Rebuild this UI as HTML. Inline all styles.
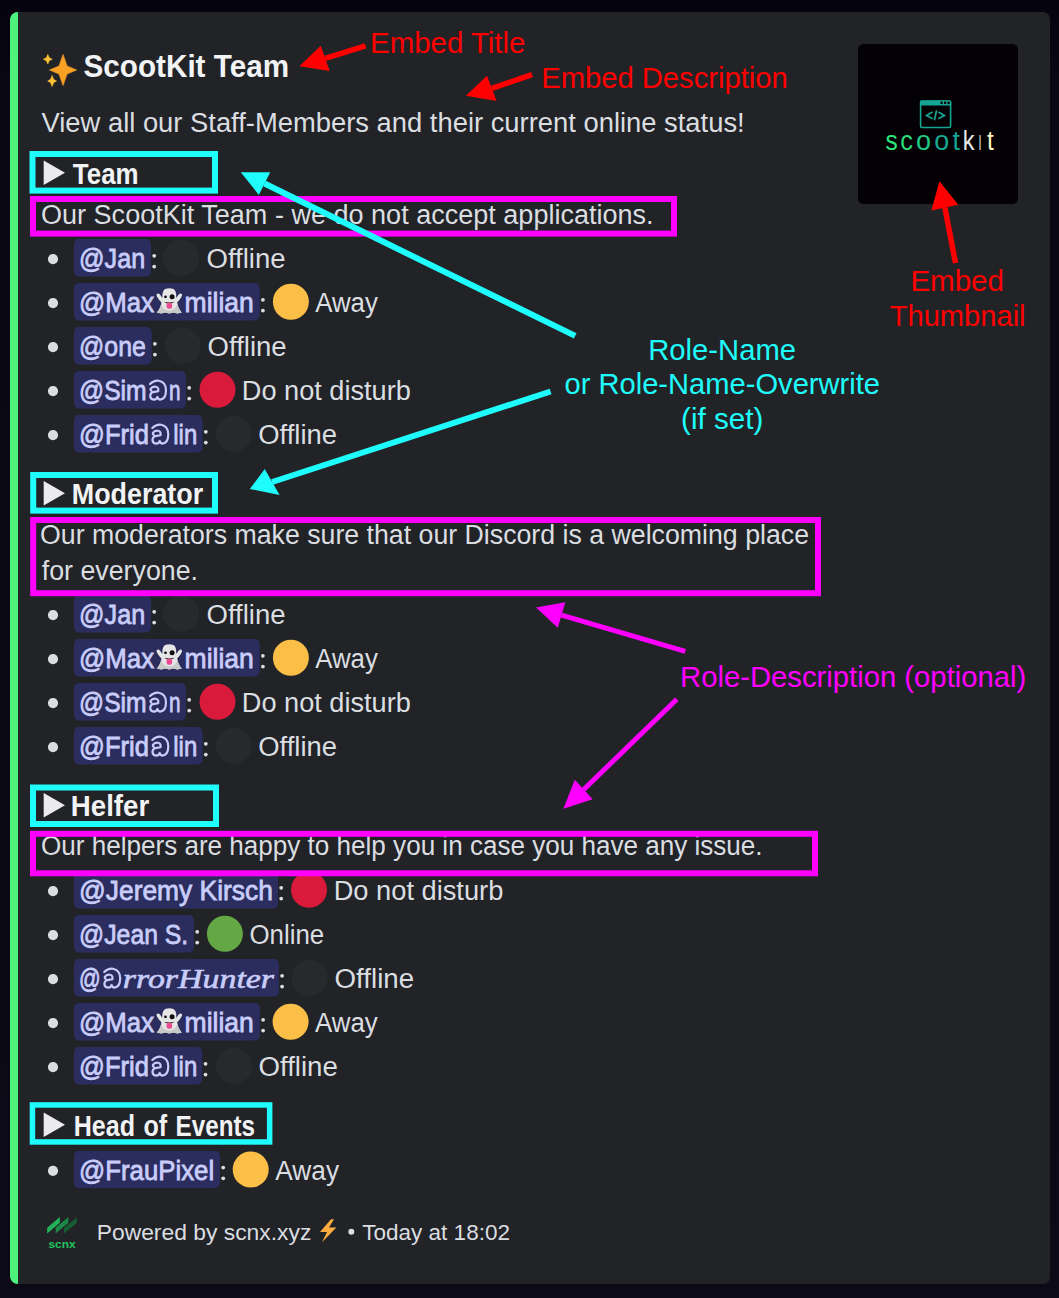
<!DOCTYPE html>
<html><head><meta charset="utf-8"><style>
html,body{margin:0;padding:0;background:#07060f;width:1059px;height:1298px;overflow:hidden}
svg{display:block}
</style></head><body>
<svg width="1059" height="1298" viewBox="0 0 1059 1298">
<defs><linearGradient id="bgg" x1="0" y1="0" x2="0" y2="1"><stop offset="0" stop-color="#04030e"/><stop offset="0.06" stop-color="#090812"/><stop offset="0.5" stop-color="#0a0914"/><stop offset="1" stop-color="#0b0a16"/></linearGradient></defs><rect width="1059" height="1298" fill="url(#bgg)"/>
<rect x="10" y="12" width="1040" height="1272" rx="7" fill="#222327"/>
<path d="M18 12 H18 V1284 H18 A8 8 0 0 1 10 1276 V20 A8 8 0 0 1 18 12 Z" fill="#4ef27b"/>
<rect x="858" y="44" width="160" height="160" rx="5.5" fill="#030103"/>
<rect x="920.6" y="101" width="30" height="26.5" rx="1.5" fill="none" stroke="#17a593" stroke-width="1.6"/>
<rect x="920" y="100.4" width="31.2" height="5" rx="1.2" fill="#17a593"/>
<rect x="940.5" y="101.6" width="2.2" height="2.4" fill="#040204"/>
<rect x="944" y="101.6" width="2.2" height="2.4" fill="#040204"/>
<rect x="947.5" y="101.6" width="2.2" height="2.4" fill="#040204"/>
<path d="M932.6 112 L926.6 115.4 L932.6 118.8 M938.3 112 L944.4 115.4 L938.3 118.8 M936.6 110.3 L934.4 120.3" fill="none" stroke="#17a593" stroke-width="1.7"/>
<text x="885.4" y="150.2" font-family='"Liberation Sans", sans-serif' font-size="27.5" font-weight="normal" fill="#2ee57a" text-anchor="start" textLength="12.2" lengthAdjust="spacingAndGlyphs" >s</text>
<text x="900.2" y="150.2" font-family='"Liberation Sans", sans-serif' font-size="27.5" font-weight="normal" fill="#2bdb7a" text-anchor="start" textLength="12.7" lengthAdjust="spacingAndGlyphs" >c</text>
<text x="916.0" y="150.2" font-family='"Liberation Sans", sans-serif' font-size="27.5" font-weight="normal" fill="#20c886" text-anchor="start" textLength="15.03" lengthAdjust="spacingAndGlyphs" >o</text>
<text x="934.2" y="150.2" font-family='"Liberation Sans", sans-serif' font-size="27.5" font-weight="normal" fill="#17a894" text-anchor="start" textLength="14.93" lengthAdjust="spacingAndGlyphs" >o</text>
<text x="952.5" y="150.2" font-family='"Liberation Sans", sans-serif' font-size="27.5" font-weight="normal" fill="#17a595" text-anchor="start" textLength="7.34" lengthAdjust="spacingAndGlyphs" >t</text>
<text x="962.7" y="150.2" font-family='"Liberation Sans", sans-serif' font-size="27.5" font-weight="normal" fill="#e9e9e9" text-anchor="start" textLength="11.78" lengthAdjust="spacingAndGlyphs" >k</text>
<text x="978.4" y="150.2" font-family='"Liberation Sans", sans-serif' font-size="27.5" font-weight="normal" fill="#f2f2f2" text-anchor="start" textLength="2.98" lengthAdjust="spacingAndGlyphs" >ı</text>
<text x="987.1" y="150.2" font-family='"Liberation Sans", sans-serif' font-size="27.5" font-weight="normal" fill="#fdf6c6" text-anchor="start" textLength="6.75" lengthAdjust="spacingAndGlyphs" >t</text>
<path d="M63.05 54.40 L67.13 65.94 L76.65 70.00 L67.13 74.06 L63.05 85.60 L58.97 74.06 L49.45 70.00 L58.97 65.94 Z" fill="#f9a124" stroke="#f9a124" stroke-width="0.6" stroke-linejoin="round"/>
<path d="M47.80 54.40 L49.25 57.76 L52.20 59.20 L49.25 60.64 L47.80 64.00 L46.35 60.64 L43.40 59.20 L46.35 57.76 Z" fill="#fcc033" stroke="#fcc033" stroke-width="0.6" stroke-linejoin="round"/>
<path d="M52.10 75.40 L53.55 79.32 L56.50 81.00 L53.55 82.68 L52.10 86.60 L50.65 82.68 L47.70 81.00 L50.65 79.32 Z" fill="#fcc033" stroke="#fcc033" stroke-width="0.6" stroke-linejoin="round"/>
<text x="83.6" y="76.5" font-family='"Liberation Sans", sans-serif' font-size="32" font-weight="bold" fill="#f2f3f5" text-anchor="start" textLength="205.4" lengthAdjust="spacingAndGlyphs" >ScootKit Team</text>
<text x="41.5" y="131.9" font-family='"Liberation Sans", sans-serif' font-size="28.2" font-weight="normal" fill="#dbdee1" text-anchor="start" textLength="703.2" lengthAdjust="spacingAndGlyphs" >View all our Staff-Members and their current online status!</text>
<path d="M43.7 160.6 L65 172.79999999999998 L43.7 185.0 Z" fill="#ebebed"/>
<text x="72.8" y="184" font-family='"Liberation Sans", sans-serif' font-size="29" font-weight="bold" fill="#f2f3f5" text-anchor="start" textLength="65.8" lengthAdjust="spacingAndGlyphs" >Team</text>
<text x="41.0" y="224.2" font-family='"Liberation Sans", sans-serif' font-size="28.2" font-weight="normal" fill="#dbdee1" text-anchor="start" textLength="612.6" lengthAdjust="spacingAndGlyphs" >Our ScootKit Team - we do not accept applications.</text>
<circle cx="53" cy="259.05" r="5.1" fill="#dbdee1"/>
<rect x="74" y="239.0" width="77" height="37.5" rx="5" fill="#2b2d5e"/>
<text x="79.1" y="267.9" font-family='"Liberation Sans", sans-serif' font-size="28.2" font-weight="normal" fill="#c9cdfb" text-anchor="start" textLength="66.04" lengthAdjust="spacingAndGlyphs" stroke="#c9cdfb" stroke-width="0.8">@Jan</text>
<circle cx="154.2" cy="255.85" r="1.9" fill="#dbdee1"/><circle cx="154.2" cy="266.55" r="1.9" fill="#dbdee1"/>
<circle cx="180.9" cy="257.75" r="18" fill="#272a2d"/>
<text x="206.5" y="267.9" font-family='"Liberation Sans", sans-serif' font-size="28.2" font-weight="normal" fill="#dbdee1" text-anchor="start" textLength="79.06" lengthAdjust="spacingAndGlyphs" >Offline</text>
<circle cx="53" cy="303.05" r="5.1" fill="#dbdee1"/>
<rect x="74" y="283.0" width="185.7" height="37.5" rx="5" fill="#2b2d5e"/>
<text x="79.1" y="311.9" font-family='"Liberation Sans", sans-serif' font-size="28.2" font-weight="normal" fill="#c9cdfb" text-anchor="start" textLength="74.98" lengthAdjust="spacingAndGlyphs" stroke="#c9cdfb" stroke-width="0.8">@Max</text>
<g transform="translate(155.3,288.0)"><path d="M1.2 7.2 Q1.2 5.2 3.2 5.6 Q4.6 6 7 10 Q6.6 2 10.5 0.8 Q14 -0.4 17.5 0.8 Q21.4 2 21 10 Q23.4 6 24.8 5.6 Q26.8 5.2 26.8 7.2 Q26 10 21.8 14.5 Q23 21 26.6 24.6 Q22 26.2 18 24.6 Q14 26.2 10 24.6 Q6 26.2 1.4 24.6 Q5 21 6.2 14.5 Q2 10 1.2 7.2 Z" fill="#e6e6e6"/><path d="M6.2 14.5 Q5 21 1.4 24.6 Q6 26.2 10 24.6 Q14 26.2 18 24.6 Q22 26.2 26.6 24.6 Q23 21 21.8 14.5 Q22 22 14 22.5 Q6 22 6.2 14.5 Z" fill="#c9c9c9"/><circle cx="10.2" cy="8.8" r="1.4" fill="#111"/><circle cx="16.8" cy="8.8" r="2.5" fill="#111"/><path d="M8.6 13.8 Q14 15.4 19.4 13.8 Q14 17.6 8.6 13.8 Z" fill="#151515"/><rect x="11.2" y="14.8" width="5.6" height="6" rx="2.2" fill="#ee4a92"/></g>
<text x="184.6" y="311.9" font-family='"Liberation Sans", sans-serif' font-size="28.2" font-weight="normal" fill="#c9cdfb" text-anchor="start" textLength="69.25" lengthAdjust="spacingAndGlyphs" stroke="#c9cdfb" stroke-width="0.8">milian</text>
<circle cx="262.9" cy="299.85" r="1.9" fill="#dbdee1"/><circle cx="262.9" cy="310.55" r="1.9" fill="#dbdee1"/>
<circle cx="290.90000000000003" cy="301.75" r="18" fill="#fbbf48"/>
<text x="315.2" y="311.9" font-family='"Liberation Sans", sans-serif' font-size="28.2" font-weight="normal" fill="#dbdee1" text-anchor="start" textLength="62.66" lengthAdjust="spacingAndGlyphs" >Away</text>
<circle cx="53" cy="347.05" r="5.1" fill="#dbdee1"/>
<rect x="74" y="327.0" width="77.69999999999999" height="37.5" rx="5" fill="#2b2d5e"/>
<text x="79.1" y="355.9" font-family='"Liberation Sans", sans-serif' font-size="28.2" font-weight="normal" fill="#c9cdfb" text-anchor="start" textLength="66.77" lengthAdjust="spacingAndGlyphs" stroke="#c9cdfb" stroke-width="0.8">@one</text>
<circle cx="154.89999999999998" cy="343.85" r="1.9" fill="#dbdee1"/><circle cx="154.89999999999998" cy="354.55" r="1.9" fill="#dbdee1"/>
<circle cx="182.9" cy="345.75" r="18" fill="#272a2d"/>
<text x="207.6" y="355.9" font-family='"Liberation Sans", sans-serif' font-size="28.2" font-weight="normal" fill="#dbdee1" text-anchor="start" textLength="79.06" lengthAdjust="spacingAndGlyphs" >Offline</text>
<circle cx="53" cy="391.05" r="5.1" fill="#dbdee1"/>
<rect x="74" y="371.0" width="112" height="37.5" rx="5" fill="#2b2d5e"/>
<text x="79.1" y="399.9" font-family='"Liberation Sans", sans-serif' font-size="28.2" font-weight="normal" fill="#c9cdfb" text-anchor="start" textLength="67.56" lengthAdjust="spacingAndGlyphs" stroke="#c9cdfb" stroke-width="0.8">@Sim</text>
<g transform="translate(145.8,376.35)" fill="none" stroke="#c9cdfb" stroke-width="2.2" stroke-linecap="round" stroke-linejoin="round"><path d="M4.2 7.7 Q8.5 3.6 13 4.4 Q20.2 5.8 20.2 14 Q20 23 14.5 23.2 Q12.2 23.2 11.6 20.6 Q11 23.3 8 23.2 Q4.4 23 4.4 19.5 Q4.6 16 8.5 15.6 L12.4 14.9 Q13.2 11 10 10.4 Q6.4 10 4.8 12.4 Q4.4 13.8 5.6 14.4"/></g>
<text x="168.9" y="399.9" font-family='"Liberation Sans", sans-serif' font-size="28.2" font-weight="normal" fill="#c9cdfb" text-anchor="start" textLength="11.52" lengthAdjust="spacingAndGlyphs" stroke="#c9cdfb" stroke-width="0.8">n</text>
<circle cx="189.2" cy="387.85" r="1.9" fill="#dbdee1"/><circle cx="189.2" cy="398.55" r="1.9" fill="#dbdee1"/>
<circle cx="217.5" cy="389.75" r="18" fill="#d91a3a"/>
<text x="241.8" y="399.9" font-family='"Liberation Sans", sans-serif' font-size="28.2" font-weight="normal" fill="#dbdee1" text-anchor="start" textLength="169.02" lengthAdjust="spacingAndGlyphs" >Do not disturb</text>
<circle cx="53" cy="435.05" r="5.1" fill="#dbdee1"/>
<rect x="74" y="415.0" width="128.6" height="37.5" rx="5" fill="#2b2d5e"/>
<text x="79.1" y="443.9" font-family='"Liberation Sans", sans-serif' font-size="28.2" font-weight="normal" fill="#c9cdfb" text-anchor="start" textLength="69.86" lengthAdjust="spacingAndGlyphs" stroke="#c9cdfb" stroke-width="0.8">@Frid</text>
<g transform="translate(148.10000000000002,420.35)" fill="none" stroke="#c9cdfb" stroke-width="2.2" stroke-linecap="round" stroke-linejoin="round"><path d="M4.2 7.7 Q8.5 3.6 13 4.4 Q20.2 5.8 20.2 14 Q20 23 14.5 23.2 Q12.2 23.2 11.6 20.6 Q11 23.3 8 23.2 Q4.4 23 4.4 19.5 Q4.6 16 8.5 15.6 L12.4 14.9 Q13.2 11 10 10.4 Q6.4 10 4.8 12.4 Q4.4 13.8 5.6 14.4"/></g>
<text x="173.3" y="443.9" font-family='"Liberation Sans", sans-serif' font-size="28.2" font-weight="normal" fill="#c9cdfb" text-anchor="start" textLength="23.91" lengthAdjust="spacingAndGlyphs" stroke="#c9cdfb" stroke-width="0.8">lin</text>
<circle cx="205.79999999999998" cy="431.85" r="1.9" fill="#dbdee1"/><circle cx="205.79999999999998" cy="442.55" r="1.9" fill="#dbdee1"/>
<circle cx="233.79999999999998" cy="433.75" r="18" fill="#272a2d"/>
<text x="258.2" y="443.9" font-family='"Liberation Sans", sans-serif' font-size="28.2" font-weight="normal" fill="#dbdee1" text-anchor="start" textLength="78.86" lengthAdjust="spacingAndGlyphs" >Offline</text>
<path d="M43.7 481 L65 493.2 L43.7 505.4 Z" fill="#ebebed"/>
<text x="71.8" y="504.2" font-family='"Liberation Sans", sans-serif' font-size="29" font-weight="bold" fill="#f2f3f5" text-anchor="start" textLength="131.4" lengthAdjust="spacingAndGlyphs" >Moderator</text>
<text x="40.0" y="544.1" font-family='"Liberation Sans", sans-serif' font-size="28.2" font-weight="normal" fill="#dbdee1" text-anchor="start" textLength="769.0" lengthAdjust="spacingAndGlyphs" >Our moderators make sure that our Discord is a welcoming place</text>
<text x="41.8" y="580" font-family='"Liberation Sans", sans-serif' font-size="28.2" font-weight="normal" fill="#dbdee1" text-anchor="start" textLength="156.2" lengthAdjust="spacingAndGlyphs" >for everyone.</text>
<circle cx="53" cy="615.05" r="5.1" fill="#dbdee1"/>
<rect x="74" y="595.0" width="77" height="37.5" rx="5" fill="#2b2d5e"/>
<text x="79.1" y="623.9" font-family='"Liberation Sans", sans-serif' font-size="28.2" font-weight="normal" fill="#c9cdfb" text-anchor="start" textLength="66.04" lengthAdjust="spacingAndGlyphs" stroke="#c9cdfb" stroke-width="0.8">@Jan</text>
<circle cx="154.2" cy="611.85" r="1.9" fill="#dbdee1"/><circle cx="154.2" cy="622.55" r="1.9" fill="#dbdee1"/>
<circle cx="180.9" cy="613.75" r="18" fill="#272a2d"/>
<text x="206.5" y="623.9" font-family='"Liberation Sans", sans-serif' font-size="28.2" font-weight="normal" fill="#dbdee1" text-anchor="start" textLength="79.06" lengthAdjust="spacingAndGlyphs" >Offline</text>
<circle cx="53" cy="659.05" r="5.1" fill="#dbdee1"/>
<rect x="74" y="639.0" width="185.7" height="37.5" rx="5" fill="#2b2d5e"/>
<text x="79.1" y="667.9" font-family='"Liberation Sans", sans-serif' font-size="28.2" font-weight="normal" fill="#c9cdfb" text-anchor="start" textLength="74.98" lengthAdjust="spacingAndGlyphs" stroke="#c9cdfb" stroke-width="0.8">@Max</text>
<g transform="translate(155.3,644.0)"><path d="M1.2 7.2 Q1.2 5.2 3.2 5.6 Q4.6 6 7 10 Q6.6 2 10.5 0.8 Q14 -0.4 17.5 0.8 Q21.4 2 21 10 Q23.4 6 24.8 5.6 Q26.8 5.2 26.8 7.2 Q26 10 21.8 14.5 Q23 21 26.6 24.6 Q22 26.2 18 24.6 Q14 26.2 10 24.6 Q6 26.2 1.4 24.6 Q5 21 6.2 14.5 Q2 10 1.2 7.2 Z" fill="#e6e6e6"/><path d="M6.2 14.5 Q5 21 1.4 24.6 Q6 26.2 10 24.6 Q14 26.2 18 24.6 Q22 26.2 26.6 24.6 Q23 21 21.8 14.5 Q22 22 14 22.5 Q6 22 6.2 14.5 Z" fill="#c9c9c9"/><circle cx="10.2" cy="8.8" r="1.4" fill="#111"/><circle cx="16.8" cy="8.8" r="2.5" fill="#111"/><path d="M8.6 13.8 Q14 15.4 19.4 13.8 Q14 17.6 8.6 13.8 Z" fill="#151515"/><rect x="11.2" y="14.8" width="5.6" height="6" rx="2.2" fill="#ee4a92"/></g>
<text x="184.6" y="667.9" font-family='"Liberation Sans", sans-serif' font-size="28.2" font-weight="normal" fill="#c9cdfb" text-anchor="start" textLength="69.25" lengthAdjust="spacingAndGlyphs" stroke="#c9cdfb" stroke-width="0.8">milian</text>
<circle cx="262.9" cy="655.85" r="1.9" fill="#dbdee1"/><circle cx="262.9" cy="666.55" r="1.9" fill="#dbdee1"/>
<circle cx="290.90000000000003" cy="657.75" r="18" fill="#fbbf48"/>
<text x="315.2" y="667.9" font-family='"Liberation Sans", sans-serif' font-size="28.2" font-weight="normal" fill="#dbdee1" text-anchor="start" textLength="62.66" lengthAdjust="spacingAndGlyphs" >Away</text>
<circle cx="53" cy="703.05" r="5.1" fill="#dbdee1"/>
<rect x="74" y="683.0" width="112" height="37.5" rx="5" fill="#2b2d5e"/>
<text x="79.1" y="711.9" font-family='"Liberation Sans", sans-serif' font-size="28.2" font-weight="normal" fill="#c9cdfb" text-anchor="start" textLength="67.56" lengthAdjust="spacingAndGlyphs" stroke="#c9cdfb" stroke-width="0.8">@Sim</text>
<g transform="translate(145.8,688.35)" fill="none" stroke="#c9cdfb" stroke-width="2.2" stroke-linecap="round" stroke-linejoin="round"><path d="M4.2 7.7 Q8.5 3.6 13 4.4 Q20.2 5.8 20.2 14 Q20 23 14.5 23.2 Q12.2 23.2 11.6 20.6 Q11 23.3 8 23.2 Q4.4 23 4.4 19.5 Q4.6 16 8.5 15.6 L12.4 14.9 Q13.2 11 10 10.4 Q6.4 10 4.8 12.4 Q4.4 13.8 5.6 14.4"/></g>
<text x="168.9" y="711.9" font-family='"Liberation Sans", sans-serif' font-size="28.2" font-weight="normal" fill="#c9cdfb" text-anchor="start" textLength="11.52" lengthAdjust="spacingAndGlyphs" stroke="#c9cdfb" stroke-width="0.8">n</text>
<circle cx="189.2" cy="699.85" r="1.9" fill="#dbdee1"/><circle cx="189.2" cy="710.55" r="1.9" fill="#dbdee1"/>
<circle cx="217.5" cy="701.75" r="18" fill="#d91a3a"/>
<text x="241.8" y="711.9" font-family='"Liberation Sans", sans-serif' font-size="28.2" font-weight="normal" fill="#dbdee1" text-anchor="start" textLength="169.02" lengthAdjust="spacingAndGlyphs" >Do not disturb</text>
<circle cx="53" cy="747.05" r="5.1" fill="#dbdee1"/>
<rect x="74" y="727.0" width="128.6" height="37.5" rx="5" fill="#2b2d5e"/>
<text x="79.1" y="755.9" font-family='"Liberation Sans", sans-serif' font-size="28.2" font-weight="normal" fill="#c9cdfb" text-anchor="start" textLength="69.86" lengthAdjust="spacingAndGlyphs" stroke="#c9cdfb" stroke-width="0.8">@Frid</text>
<g transform="translate(148.10000000000002,732.35)" fill="none" stroke="#c9cdfb" stroke-width="2.2" stroke-linecap="round" stroke-linejoin="round"><path d="M4.2 7.7 Q8.5 3.6 13 4.4 Q20.2 5.8 20.2 14 Q20 23 14.5 23.2 Q12.2 23.2 11.6 20.6 Q11 23.3 8 23.2 Q4.4 23 4.4 19.5 Q4.6 16 8.5 15.6 L12.4 14.9 Q13.2 11 10 10.4 Q6.4 10 4.8 12.4 Q4.4 13.8 5.6 14.4"/></g>
<text x="173.3" y="755.9" font-family='"Liberation Sans", sans-serif' font-size="28.2" font-weight="normal" fill="#c9cdfb" text-anchor="start" textLength="23.91" lengthAdjust="spacingAndGlyphs" stroke="#c9cdfb" stroke-width="0.8">lin</text>
<circle cx="205.79999999999998" cy="743.85" r="1.9" fill="#dbdee1"/><circle cx="205.79999999999998" cy="754.55" r="1.9" fill="#dbdee1"/>
<circle cx="233.79999999999998" cy="745.75" r="18" fill="#272a2d"/>
<text x="258.2" y="755.9" font-family='"Liberation Sans", sans-serif' font-size="28.2" font-weight="normal" fill="#dbdee1" text-anchor="start" textLength="78.86" lengthAdjust="spacingAndGlyphs" >Offline</text>
<path d="M43.7 793 L65 805.2 L43.7 817.4 Z" fill="#ebebed"/>
<text x="70.8" y="815.7" font-family='"Liberation Sans", sans-serif' font-size="29" font-weight="bold" fill="#f2f3f5" text-anchor="start" textLength="78.4" lengthAdjust="spacingAndGlyphs" >Helfer</text>
<text x="41.0" y="855.2" font-family='"Liberation Sans", sans-serif' font-size="28.2" font-weight="normal" fill="#dbdee1" text-anchor="start" textLength="721.6" lengthAdjust="spacingAndGlyphs" >Our helpers are happy to help you in case you have any issue.</text>
<circle cx="53" cy="891.05" r="5.1" fill="#dbdee1"/>
<rect x="74" y="871.0" width="204" height="37.5" rx="5" fill="#2b2d5e"/>
<text x="79.1" y="899.9" font-family='"Liberation Sans", sans-serif' font-size="28.2" font-weight="normal" fill="#c9cdfb" text-anchor="start" textLength="193.7" lengthAdjust="spacingAndGlyphs" stroke="#c9cdfb" stroke-width="0.8">@Jeremy Kirsch</text>
<circle cx="281.2" cy="887.85" r="1.9" fill="#dbdee1"/><circle cx="281.2" cy="898.55" r="1.9" fill="#dbdee1"/>
<circle cx="309.0" cy="889.75" r="18" fill="#d91a3a"/>
<text x="333.7" y="899.9" font-family='"Liberation Sans", sans-serif' font-size="28.2" font-weight="normal" fill="#dbdee1" text-anchor="start" textLength="169.62" lengthAdjust="spacingAndGlyphs" >Do not disturb</text>
<circle cx="53" cy="935.05" r="5.1" fill="#dbdee1"/>
<rect x="74" y="915.0" width="120" height="37.5" rx="5" fill="#2b2d5e"/>
<text x="79.1" y="943.9" font-family='"Liberation Sans", sans-serif' font-size="28.2" font-weight="normal" fill="#c9cdfb" text-anchor="start" textLength="109.13" lengthAdjust="spacingAndGlyphs" stroke="#c9cdfb" stroke-width="0.8">@Jean S.</text>
<circle cx="197.2" cy="931.85" r="1.9" fill="#dbdee1"/><circle cx="197.2" cy="942.55" r="1.9" fill="#dbdee1"/>
<circle cx="224.9" cy="933.75" r="18" fill="#64a846"/>
<text x="249.4" y="943.9" font-family='"Liberation Sans", sans-serif' font-size="28.2" font-weight="normal" fill="#dbdee1" text-anchor="start" textLength="74.82" lengthAdjust="spacingAndGlyphs" >Online</text>
<circle cx="53" cy="979.05" r="5.1" fill="#dbdee1"/>
<rect x="74" y="959.0" width="204.89999999999998" height="37.5" rx="5" fill="#2b2d5e"/>
<text x="79.1" y="987.9" font-family='"Liberation Sans", sans-serif' font-size="28.2" font-weight="normal" fill="#c9cdfb" text-anchor="start" textLength="21.7" lengthAdjust="spacingAndGlyphs" stroke="#c9cdfb" stroke-width="0.8">@</text>
<g transform="translate(100.0,964.35)" fill="none" stroke="#c9cdfb" stroke-width="2.2" stroke-linecap="round" stroke-linejoin="round"><path d="M4.2 7.7 Q8.5 3.6 13 4.4 Q20.2 5.8 20.2 14 Q20 23 14.5 23.2 Q12.2 23.2 11.6 20.6 Q11 23.3 8 23.2 Q4.4 23 4.4 19.5 Q4.6 16 8.5 15.6 L12.4 14.9 Q13.2 11 10 10.4 Q6.4 10 4.8 12.4 Q4.4 13.8 5.6 14.4"/></g>
<text x="122.8" y="987.9" font-family='"Liberation Serif", serif' font-size="28" font-weight="normal" fill="#c9cdfb" text-anchor="start" textLength="151.27" lengthAdjust="spacingAndGlyphs" stroke="#c9cdfb" stroke-width="0.6" font-style="italic">rrorHunter</text>
<circle cx="282.09999999999997" cy="975.85" r="1.9" fill="#dbdee1"/><circle cx="282.09999999999997" cy="986.55" r="1.9" fill="#dbdee1"/>
<circle cx="309.70000000000005" cy="977.75" r="18" fill="#272a2d"/>
<text x="334.6" y="987.9" font-family='"Liberation Sans", sans-serif' font-size="28.2" font-weight="normal" fill="#dbdee1" text-anchor="start" textLength="79.46" lengthAdjust="spacingAndGlyphs" >Offline</text>
<circle cx="53" cy="1023.05" r="5.1" fill="#dbdee1"/>
<rect x="74" y="1003.0" width="185.89999999999998" height="37.5" rx="5" fill="#2b2d5e"/>
<text x="79.1" y="1031.9" font-family='"Liberation Sans", sans-serif' font-size="28.2" font-weight="normal" fill="#c9cdfb" text-anchor="start" textLength="74.98" lengthAdjust="spacingAndGlyphs" stroke="#c9cdfb" stroke-width="0.8">@Max</text>
<g transform="translate(155.3,1008.0)"><path d="M1.2 7.2 Q1.2 5.2 3.2 5.6 Q4.6 6 7 10 Q6.6 2 10.5 0.8 Q14 -0.4 17.5 0.8 Q21.4 2 21 10 Q23.4 6 24.8 5.6 Q26.8 5.2 26.8 7.2 Q26 10 21.8 14.5 Q23 21 26.6 24.6 Q22 26.2 18 24.6 Q14 26.2 10 24.6 Q6 26.2 1.4 24.6 Q5 21 6.2 14.5 Q2 10 1.2 7.2 Z" fill="#e6e6e6"/><path d="M6.2 14.5 Q5 21 1.4 24.6 Q6 26.2 10 24.6 Q14 26.2 18 24.6 Q22 26.2 26.6 24.6 Q23 21 21.8 14.5 Q22 22 14 22.5 Q6 22 6.2 14.5 Z" fill="#c9c9c9"/><circle cx="10.2" cy="8.8" r="1.4" fill="#111"/><circle cx="16.8" cy="8.8" r="2.5" fill="#111"/><path d="M8.6 13.8 Q14 15.4 19.4 13.8 Q14 17.6 8.6 13.8 Z" fill="#151515"/><rect x="11.2" y="14.8" width="5.6" height="6" rx="2.2" fill="#ee4a92"/></g>
<text x="184.6" y="1031.9" font-family='"Liberation Sans", sans-serif' font-size="28.2" font-weight="normal" fill="#c9cdfb" text-anchor="start" textLength="69.25" lengthAdjust="spacingAndGlyphs" stroke="#c9cdfb" stroke-width="0.8">milian</text>
<circle cx="263.09999999999997" cy="1019.85" r="1.9" fill="#dbdee1"/><circle cx="263.09999999999997" cy="1030.55" r="1.9" fill="#dbdee1"/>
<circle cx="290.6" cy="1021.75" r="18" fill="#fbbf48"/>
<text x="315.0" y="1031.9" font-family='"Liberation Sans", sans-serif' font-size="28.2" font-weight="normal" fill="#dbdee1" text-anchor="start" textLength="62.76" lengthAdjust="spacingAndGlyphs" >Away</text>
<circle cx="53" cy="1067.05" r="5.1" fill="#dbdee1"/>
<rect x="74" y="1047.0" width="128.3" height="37.5" rx="5" fill="#2b2d5e"/>
<text x="79.1" y="1075.9" font-family='"Liberation Sans", sans-serif' font-size="28.2" font-weight="normal" fill="#c9cdfb" text-anchor="start" textLength="69.86" lengthAdjust="spacingAndGlyphs" stroke="#c9cdfb" stroke-width="0.8">@Frid</text>
<g transform="translate(148.10000000000002,1052.35)" fill="none" stroke="#c9cdfb" stroke-width="2.2" stroke-linecap="round" stroke-linejoin="round"><path d="M4.2 7.7 Q8.5 3.6 13 4.4 Q20.2 5.8 20.2 14 Q20 23 14.5 23.2 Q12.2 23.2 11.6 20.6 Q11 23.3 8 23.2 Q4.4 23 4.4 19.5 Q4.6 16 8.5 15.6 L12.4 14.9 Q13.2 11 10 10.4 Q6.4 10 4.8 12.4 Q4.4 13.8 5.6 14.4"/></g>
<text x="173.3" y="1075.9" font-family='"Liberation Sans", sans-serif' font-size="28.2" font-weight="normal" fill="#c9cdfb" text-anchor="start" textLength="23.91" lengthAdjust="spacingAndGlyphs" stroke="#c9cdfb" stroke-width="0.8">lin</text>
<circle cx="205.5" cy="1063.85" r="1.9" fill="#dbdee1"/><circle cx="205.5" cy="1074.55" r="1.9" fill="#dbdee1"/>
<circle cx="234.0" cy="1065.75" r="18" fill="#272a2d"/>
<text x="258.5" y="1075.9" font-family='"Liberation Sans", sans-serif' font-size="28.2" font-weight="normal" fill="#dbdee1" text-anchor="start" textLength="79.36" lengthAdjust="spacingAndGlyphs" >Offline</text>
<path d="M43.7 1112.5 L65 1124.7 L43.7 1136.9 Z" fill="#ebebed"/>
<text x="73.7" y="1135.8" font-family='"Liberation Sans", sans-serif' font-size="29" font-weight="bold" fill="#f2f3f5" text-anchor="start" textLength="61.31" lengthAdjust="spacingAndGlyphs" >Head</text>
<text x="143.5" y="1135.8" font-family='"Liberation Sans", sans-serif' font-size="29" font-weight="bold" fill="#f2f3f5" text-anchor="start" textLength="23.67" lengthAdjust="spacingAndGlyphs" >of</text>
<text x="175.6" y="1135.8" font-family='"Liberation Sans", sans-serif' font-size="29" font-weight="bold" fill="#f2f3f5" text-anchor="start" textLength="79.39" lengthAdjust="spacingAndGlyphs" >Events</text>
<circle cx="53" cy="1170.8" r="5.1" fill="#dbdee1"/>
<rect x="74" y="1150.75" width="146" height="37.5" rx="5" fill="#2b2d5e"/>
<text x="79.1" y="1179.65" font-family='"Liberation Sans", sans-serif' font-size="28.2" font-weight="normal" fill="#c9cdfb" text-anchor="start" textLength="135.07" lengthAdjust="spacingAndGlyphs" stroke="#c9cdfb" stroke-width="0.8">@FrauPixel</text>
<circle cx="223.2" cy="1167.6" r="1.9" fill="#dbdee1"/><circle cx="223.2" cy="1178.3" r="1.9" fill="#dbdee1"/>
<circle cx="250.7" cy="1169.5" r="18" fill="#fbbf48"/>
<text x="275.3" y="1179.65" font-family='"Liberation Sans", sans-serif' font-size="28.2" font-weight="normal" fill="#dbdee1" text-anchor="start" textLength="63.76" lengthAdjust="spacingAndGlyphs" >Away</text>
<path d="M47.2 1227.8 L59.8 1217 L59.8 1222.8 L47.2 1233.6 Z" fill="#22b35a"/>
<path d="M55.6 1227.8 L68.4 1217 L68.4 1222.8 L55.6 1233.6 Z" fill="#1c8a47"/>
<path d="M64 1227.8 L76.8 1217.5 L76.8 1223 L64 1233.6 Z" fill="#175c33"/>
<text x="48.5" y="1247.8" font-family='"Liberation Sans", sans-serif' font-size="10" font-weight="bold" fill="#22c55e" text-anchor="start" textLength="27" lengthAdjust="spacingAndGlyphs" >scnx</text>
<text x="96.7" y="1239.7" font-family='"Liberation Sans", sans-serif' font-size="22.5" font-weight="normal" fill="#dbdee1" text-anchor="start" textLength="214.7" lengthAdjust="spacingAndGlyphs" >Powered by scnx.xyz</text>
<path d="M331 1219.3 L320 1232 L327 1232 L322 1242.2 L336.4 1227.6 L329 1227.6 L334 1219.3 Z" fill="#fcab40"/>
<circle cx="351.3" cy="1231.8" r="3" fill="#dbdee1"/>
<text x="362.2" y="1239.7" font-family='"Liberation Sans", sans-serif' font-size="22.5" font-weight="normal" fill="#dbdee1" text-anchor="start" textLength="147.8" lengthAdjust="spacingAndGlyphs" >Today at 18:02</text>
<rect x="32.5" y="154.0" width="182.5" height="36.599999999999994" fill="none" stroke="#1ffcfc" stroke-width="6"/>
<rect x="33.0" y="199.0" width="641" height="34.599999999999994" fill="none" stroke="#ff00ff" stroke-width="6"/>
<rect x="33.2" y="475.0" width="181.8" height="35.60000000000002" fill="none" stroke="#1ffcfc" stroke-width="6"/>
<rect x="33.2" y="520.0" width="784.8" height="73.20000000000005" fill="none" stroke="#ff00ff" stroke-width="6"/>
<rect x="33.0" y="787.5" width="183" height="36.5" fill="none" stroke="#1ffcfc" stroke-width="6"/>
<rect x="33.0" y="833.8" width="782" height="39.5" fill="none" stroke="#ff00ff" stroke-width="6"/>
<rect x="32.45" y="1104.95" width="237.2" height="37.0" fill="none" stroke="#1ffcfc" stroke-width="5.5"/>
<path d="M365.5 45.8 L325.2 58.4" stroke="#ff0000" stroke-width="5.5" fill="none"/>
<path d="M299.4 66.3 L320.7 45.8 L329.7 71 Z" fill="#ff0000"/>
<path d="M532 74.6 L491.8 88.4" stroke="#ff0000" stroke-width="5.5" fill="none"/>
<path d="M465.9 95.8 L487 75.8 L496.6 101 Z" fill="#ff0000"/>
<path d="M955.5 262.9 L944.8499999999999 207.6" stroke="#ff0000" stroke-width="5.5" fill="none"/>
<path d="M939.4 181.3 L931.4 210.5 L958.3 204.7 Z" fill="#ff0000"/>
<path d="M575.2 335.9 L264.5 183.55" stroke="#1ffcfc" stroke-width="6" fill="none"/>
<path d="M240.8 172.2 L270.2 172.2 L258.8 194.9 Z" fill="#1ffcfc"/>
<path d="M550.6 391.5 L272.15 482.0" stroke="#1ffcfc" stroke-width="6" fill="none"/>
<path d="M249.8 489 L264.7 469.1 L279.6 494.9 Z" fill="#1ffcfc"/>
<path d="M685.3 651.4 L561.55 615.05" stroke="#ff00ff" stroke-width="5" fill="none"/>
<path d="M536 607.4 L565.3 602.3 L557.8 627.8 Z" fill="#ff00ff"/>
<path d="M676.8 699.2 L583.75 789.55" stroke="#ff00ff" stroke-width="5" fill="none"/>
<path d="M563.4 808.7 L574.8 779.8 L592.7 799.3 Z" fill="#ff00ff"/>
<text x="370.0" y="53.3" font-family='"Liberation Sans", sans-serif' font-size="28.7" font-weight="normal" fill="#ff0000" text-anchor="start" textLength="155.4" lengthAdjust="spacingAndGlyphs" >Embed Title</text>
<text x="541.2" y="88.2" font-family='"Liberation Sans", sans-serif' font-size="28.7" font-weight="normal" fill="#ff0000" text-anchor="start" textLength="246.6" lengthAdjust="spacingAndGlyphs" >Embed Description</text>
<text x="910.4" y="290.9" font-family='"Liberation Sans", sans-serif' font-size="28.7" font-weight="normal" fill="#ff0000" text-anchor="start" textLength="93.6" lengthAdjust="spacingAndGlyphs" >Embed</text>
<text x="889.7" y="325.6" font-family='"Liberation Sans", sans-serif' font-size="28.7" font-weight="normal" fill="#ff0000" text-anchor="start" textLength="135.9" lengthAdjust="spacingAndGlyphs" >Thumbnail</text>
<text x="648.2" y="360" font-family='"Liberation Sans", sans-serif' font-size="28.7" font-weight="normal" fill="#1ffcfc" text-anchor="start" textLength="147.8" lengthAdjust="spacingAndGlyphs" >Role-Name</text>
<text x="564.5" y="394.3" font-family='"Liberation Sans", sans-serif' font-size="28.7" font-weight="normal" fill="#1ffcfc" text-anchor="start" textLength="315.5" lengthAdjust="spacingAndGlyphs" >or Role-Name-Overwrite</text>
<text x="681.1" y="429.4" font-family='"Liberation Sans", sans-serif' font-size="28.7" font-weight="normal" fill="#1ffcfc" text-anchor="start" textLength="82.2" lengthAdjust="spacingAndGlyphs" >(if set)</text>
<text x="680.1" y="687.3" font-family='"Liberation Sans", sans-serif' font-size="28.7" font-weight="normal" fill="#ff00ff" text-anchor="start" textLength="346.2" lengthAdjust="spacingAndGlyphs" >Role-Description (optional)</text>
</svg>
</body></html>
